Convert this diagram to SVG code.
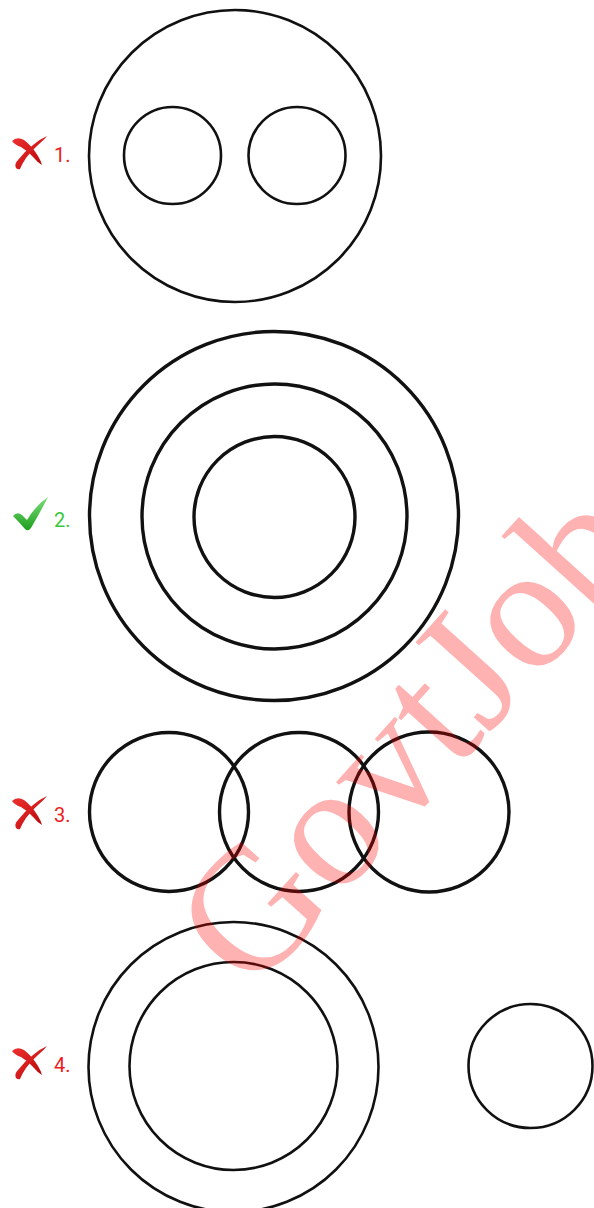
<svg xmlns="http://www.w3.org/2000/svg" width="594" height="1208" viewBox="0 0 594 1208">
  <style>
    .c1 { fill: none; stroke: #111; stroke-width: 2.6; }
    .c2 { fill: none; stroke: #111; stroke-width: 3.4; }
    .lblR { font-family: Roboto, "Liberation Sans", sans-serif; font-size: 20px; fill: #ee1c1c; }
    .lblG { font-family: Roboto, "Liberation Sans", sans-serif; font-size: 20px; fill: #3cc83c; }
    .wm { font-family: "Liberation Serif", "Times New Roman", serif; font-size: 176px; fill: #f00; fill-opacity: 0.3; }
  </style>
  <defs>
    <linearGradient id="gRed" x1="0" y1="0" x2="1" y2="1">
      <stop offset="0" stop-color="#f03030"/>
      <stop offset="1" stop-color="#b80808"/>
    </linearGradient>
    <linearGradient id="gGreen" x1="0" y1="0" x2="0" y2="1">
      <stop offset="0" stop-color="#7be07b"/>
      <stop offset="1" stop-color="#1e9e1e"/>
    </linearGradient>
    <g id="xmark">
      <path d="M1,7 Q6,2 13,6 Q21,12 27,22 Q30,27 31,31 Q27,29 23,24 Q17,17 10,13 Q4,11 1,7 Z" fill="url(#gRed)"/>
      <path d="M5,34 Q3,30 7,26 Q14,17 22,11 Q29,5 36,2 Q33,6 27,11 Q20,17 15,24 Q11,30 9,35 Q7,36 5,34 Z" fill="url(#gRed)"/>
    </g>
    <g id="check">
      <path d="M0,19 Q4,14 9,18 L14,23 Q23,8 35,0 Q29,12 18,31 Q15,35 12,32 Q6,25 0,19 Z" fill="url(#gGreen)"/>
    </g>
  </defs>

  <g id="option1">
    <use href="#xmark" x="11" y="134"/>
    <text class="lblR" x="54" y="162">1.</text>
    <circle class="c1" cx="235" cy="156" r="146"/>
    <circle class="c1" cx="172.5" cy="155.5" r="48.5"/>
    <circle class="c1" cx="297" cy="155.5" r="48.5"/>
  </g>

  <g id="option2">
    <use href="#check" x="13" y="497"/>
    <text class="lblG" x="54" y="527">2.</text>
    <circle class="c2" cx="274" cy="516" r="184.5"/>
    <circle class="c2" cx="274.5" cy="516.5" r="132.5"/>
    <circle class="c2" cx="274.5" cy="517" r="80.5"/>
  </g>

  <g id="option3">
    <use href="#xmark" x="11" y="794"/>
    <text class="lblR" x="54" y="822">3.</text>
    <circle class="c2" cx="169" cy="812" r="79.5"/>
    <circle class="c2" cx="299" cy="812" r="79.5"/>
    <circle class="c2" cx="429" cy="812" r="80"/>
  </g>

  <g id="option4">
    <use href="#xmark" x="11" y="1044"/>
    <text class="lblR" x="54" y="1072">4.</text>
    <circle class="c1" cx="233.5" cy="1067" r="145"/>
    <circle class="c1" cx="233.5" cy="1066" r="104"/>
    <circle class="c1" cx="530.5" cy="1066" r="62"/>
  </g>

  <g id="connectors"></g>

  <g id="watermark">
    <text class="wm" x="0" y="0" transform="translate(252,996) rotate(-48)">GovtJob</text>
  </g>
</svg>
